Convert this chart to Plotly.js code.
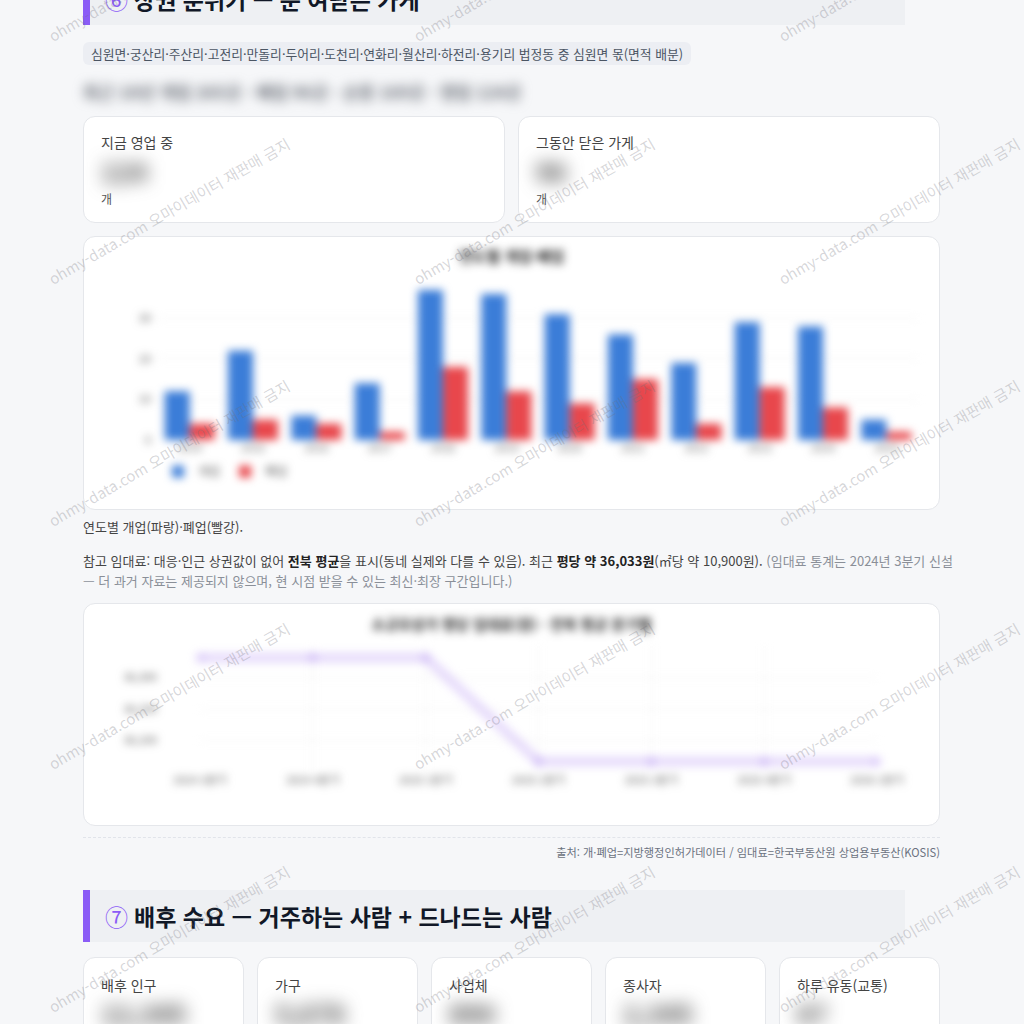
<!DOCTYPE html>
<html lang="ko">
<head>
<meta charset="utf-8">
<script src="https://cdn.plot.ly/plotly-3.0.1.min.js"></script>
<style>
  html,body{margin:0;padding:0;}
  body{width:1024px;height:1024px;overflow:hidden;background:#f6f7f9;position:relative;
       font-family:"Noto Sans CJK KR","Noto Sans",sans-serif;color:#1f2937;}
  .abs{position:absolute;}
  .band{position:absolute;left:83px;width:822px;height:52px;background:#eef0f3;border-left:7px solid #8b5cf6;
        font-size:23px;font-weight:700;line-height:52px;color:#111827;padding-left:15px;box-sizing:border-box;white-space:nowrap;}
  .band .num{color:#8b5cf6;font-weight:400;margin-right:6px;}
  .card{position:absolute;background:#fff;border:1px solid #e5e7eb;border-radius:12px;box-sizing:border-box;}
  .lbl{position:absolute;left:17px;font-size:14px;line-height:20px;color:#444;white-space:nowrap;}
  .big{position:absolute;left:17px;font-size:26px;font-weight:700;line-height:30px;color:#3a3a3a;filter:blur(9px);}
  .unit{position:absolute;left:17px;font-size:12px;line-height:16px;color:#555;}
  .wm{position:absolute;font-size:15px;line-height:20px;color:rgba(110,110,120,0.28);white-space:nowrap;
      transform:rotate(-30deg);transform-origin:0 50%;pointer-events:none;z-index:50;}
  .chart{position:absolute;filter:blur(4px);}
</style>
</head>
<body>
<script>
// ---- data ----
const years = ['2014','2015','2016','2017','2018','2019','2020','2021','2022','2023','2024','2025'];
const openCounts = [12, 22, 6, 14, 37, 36, 31, 26, 19, 29, 28, 5];
const closeCounts = [4, 5, 4, 2, 18, 12, 9, 15, 4, 13, 8, 2];
const seriesNames = ['개업', '폐업'];
const barTitle = '연도별 개업·폐업';

const rentQuarters = ['2024 3분기','2024 4분기','2025 1분기','2025 2분기','2025 3분기','2025 4분기','2026 1분기'];
const rentPerPyeong = [36363, 36363, 36363, 36033, 36033, 36033, 36033];
const rentTicks = [36100, 36200, 36300];
const lineTitle = '소규모상가 평당 임대료(원) · 전북 평균 분기별';

const bottomCards = ['배후 인구','가구','사업체','종사자','하루 유동(교통)'];
const bottomValues = ['12,345','5,678','890','2,345','67'];
</script>

<div class="band" style="top:-27px;"><span class="num">⑥</span>상권 분위기 — 문 여닫은 가게</div>

<div class="abs" style="left:83px;top:42px;height:23px;line-height:23px;padding:0 8px;background:#eceef3;border-radius:6px;font-size:12.8px;color:#4b5563;white-space:nowrap;">심원면·궁산리·주산리·고전리·만돌리·두어리·도천리·연화리·월산리·하전리·용기리 법정동 중 심원면 몫(면적 배분)</div>

<div class="abs" style="left:83px;top:79px;font-size:17px;font-weight:700;line-height:26px;color:#666b74;filter:blur(6px);white-space:nowrap;">최근 10년 개업 265곳 · 폐업 96곳 · 순증 169곳 · 영업 124곳</div>

<div class="card" style="left:83px;top:116px;width:422px;height:107px;">
  <div class="lbl" style="top:15px;">지금 영업 중</div>
  <div class="big" style="top:39px;">124</div>
  <div class="unit" style="top:74px;">개</div>
</div>
<div class="card" style="left:518px;top:116px;width:422px;height:107px;">
  <div class="lbl" style="top:15px;">그동안 닫은 가게</div>
  <div class="big" style="top:39px;">96</div>
  <div class="unit" style="top:74px;">개</div>
</div>

<div class="card" style="left:83px;top:236px;width:857px;height:274px;"></div>
<div id="bar" class="chart" style="left:95px;top:246px;width:833px;height:254px;"></div>

<div class="abs" style="left:83px;top:518px;font-size:13px;line-height:18px;color:#444;">연도별 개업(파랑)·폐업(빨강).</div>
<div class="abs" style="left:83px;top:551px;width:860px;font-size:13px;line-height:19.5px;color:#444;">
  <div style="white-space:nowrap;">참고 임대료: 대응·인근 상권값이 없어 <b style="color:#222">전북 평균</b>을 표시(동네 실제와 다를 수 있음). 최근 <b style="color:#222">평당 약 36,033원</b>(㎡당 약 10,900원). <span style="color:#8a8f98">(임대료 통계는 2024년 3분기 신설</span></div>
  <div style="white-space:nowrap;color:#8a8f98;">— 더 과거 자료는 제공되지 않으며, 현 시점 받을 수 있는 최신·최장 구간입니다.)</div>
</div>

<div class="card" style="left:83px;top:603px;width:857px;height:223px;"></div>
<div id="line" class="chart" style="left:95px;top:613px;width:833px;height:203px;"></div>

<div class="abs" style="left:83px;top:837px;width:857px;border-top:1px dashed #e1e4ea;"></div>
<div class="abs" style="left:83px;top:844px;width:857px;text-align:right;font-size:11.2px;line-height:16px;color:#6b7280;">출처: 개·폐업=지방행정인허가데이터 / 임대료=한국부동산원 상업용부동산(KOSIS)</div>

<div class="band" style="top:890px;"><span class="num">⑦</span>배후 수요 — 거주하는 사람 + 드나드는 사람</div>

<div id="bottomCards"></div>
<div id="wms"></div>

<script>
(function(){
  const host = document.getElementById('bottomCards');
  const lefts = [83, 257, 431, 605, 779];
  bottomCards.forEach((t,i)=>{
    const c = document.createElement('div');
    c.className = 'card';
    c.style.left = lefts[i]+'px'; c.style.top = '957px'; c.style.width = '161px'; c.style.height = '110px';
    c.innerHTML = '<div class="lbl" style="top:17px;">'+t+'</div><div class="big" style="top:40px;">'+bottomValues[i]+'</div>';
    host.appendChild(c);
  });
  const wm = document.getElementById('wms');
  const xs = [50, 415, 780];
  const ys = [37, 280, 522, 765, 1008];
  ys.forEach(y=>xs.forEach(x=>{
    const d = document.createElement('div');
    d.className = 'wm';
    d.textContent = 'ohmy-data.com 오마이데이터 재판매 금지';
    d.style.left = x+'px'; d.style.top = (y-10)+'px';
    wm.appendChild(d);
  }));
})();

const fam = '"Noto Sans CJK KR","Noto Sans",sans-serif';
const font = {family:fam, color:'#555', size:11};

Plotly.newPlot('bar', [
  {type:'bar', x:years, y:openCounts, name:seriesNames[0], marker:{color:'#3b7dd8'}},
  {type:'bar', x:years, y:closeCounts, name:seriesNames[1], marker:{color:'#e8474c'}}
], {
  width:833, height:254,
  margin:{l:63, r:10, t:36, b:60},
  paper_bgcolor:'rgba(0,0,0,0)', plot_bgcolor:'rgba(0,0,0,0)',
  font:font,
  barmode:'group', bargap:0.21, bargroupgap:0,
  title:{text:'<b>'+barTitle+'</b>', x:0.5, xanchor:'center', y:0.957, yref:'container', yanchor:'middle',
         font:{size:15, color:'#222', family:fam}},
  xaxis:{type:'category', showgrid:false, zeroline:false, showline:false, ticks:'', tickfont:{size:11,color:'#666'}},
  yaxis:{dtick:10, showgrid:true, gridcolor:'#eeeeee', zeroline:false, showline:false, ticks:'', tickfont:{size:11,color:'#555'}, ticklabelstandoff:6},
  showlegend:true,
  legend:{orientation:'h', x:0, xanchor:'left', y:-0.2, yanchor:'middle', font:{size:12,color:'#555'}}
}, {staticPlot:true, displayModeBar:false});

Plotly.newPlot('line', [
  {type:'scatter', mode:'lines+markers', x:rentQuarters, y:rentPerPyeong, cliponaxis:false,
   line:{color:'rgba(170,130,240,0.28)', width:10}, marker:{color:'rgba(170,130,240,0.28)', size:10}}
], {
  width:833, height:203,
  margin:{l:105, r:51, t:33, b:44},
  paper_bgcolor:'rgba(0,0,0,0)', plot_bgcolor:'rgba(0,0,0,0)',
  font:font, showlegend:false,
  title:{text:'<b>'+lineTitle+'</b>', x:0.5, xanchor:'center', y:0.94, yref:'container', yanchor:'middle',
         font:{size:14.5, color:'#222', family:fam}},
  xaxis:{type:'category', range:[0, rentQuarters.length-1], showgrid:true, gridcolor:'#f0f0f0', zeroline:false, showline:false, ticks:'', tickfont:{size:11,color:'#555'}},
  yaxis:{range:[36000, 36400], tickvals:rentTicks, tickformat:',d', showgrid:true, gridcolor:'#f0f0f0', zeroline:false, showline:false, ticks:'', tickfont:{size:11,color:'#555'}, ticklabelstandoff:42}
}, {staticPlot:true, displayModeBar:false});
</script>
</body>
</html>
